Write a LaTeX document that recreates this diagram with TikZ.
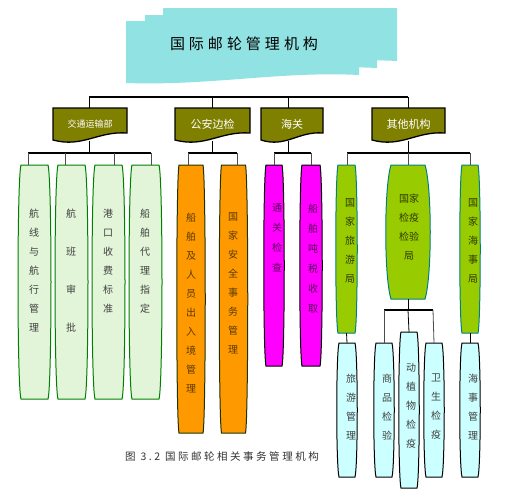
\documentclass[tikz,border=0pt]{standalone}
\usepackage{fontspec}
\setmainfont{Noto Sans CJK SC}
\usetikzlibrary{calc,backgrounds}
\definecolor{titlecyan}{HTML}{91E2E2}
\definecolor{hdrolive}{HTML}{808000}
\definecolor{gfill}{HTML}{E2F5D8}
\definecolor{gdraw}{HTML}{008000}
\definecolor{ofill}{HTML}{FF9900}
\definecolor{odraw}{HTML}{1F3300}
\definecolor{mfill}{HTML}{FF00FF}
\definecolor{yfill}{HTML}{99CC00}
\definecolor{ydraw}{HTML}{008080}
\definecolor{cfill}{HTML}{CCFFFF}
\definecolor{otext}{HTML}{5A3A00}
\definecolor{mtext}{HTML}{5A005A}
\definecolor{ytext}{HTML}{2E3A00}
\newcommand\tsp{\hspace{4pt}}
% barrel outline round a named node: name, fill, draw, inset, control offset
\newcommand\barrel[5]{%
  \path[fill=#2,draw=#3,line width=1pt]
    ($(#1.north west)+(#4,0)$) -- ($(#1.north east)+(-#4,0)$)
    .. controls ($(#1.north east)+(0,#5)$) and ($(#1.south east)+(0,-#5)$) .. ($(#1.south east)+(-#4,0)$)
    -- ($(#1.south west)+(#4,0)$)
    .. controls ($(#1.south west)+(0,-#5)$) and ($(#1.north west)+(0,#5)$) .. cycle;}
% document shape round a named header node
\newcommand\docshape[1]{%
  \path[fill=hdrolive,draw=black,line width=1.3pt]
    (#1.north west) -- (#1.north east) -- ($(#1.south east)+(0,-7)$)
    .. controls ($(#1.south east)!0.4!(#1.south west)+(0,-9)$) and ($(#1.south east)!0.6!(#1.south west)+(0,8)$) .. (#1.south west)
    -- cycle;}
\begin{document}
\begin{tikzpicture}[x=1pt,y=-1pt,
  boxnode/.style={inner sep=0pt,outer sep=0pt},
  hdr/.style={inner sep=0pt,outer sep=0pt,text=white,font=\fontsize{11}{11}\selectfont},
  vtext/.style={anchor=north,inner sep=0pt,align=center,font=\fontsize{10}{19}\selectfont},
  bus/.style={line width=1.5pt,black},
  drop/.style={line width=0.8pt,black!70}]
\useasboundingbox (0,0) rectangle (525,499);

% title banner
\path[fill=titlecyan] (163,8) -- (397,8) -- (397,61) .. controls (320,57) and (250,70) .. (163,66) -- cycle;
\path[fill=titlecyan] (145,15) -- (377,15) -- (377,68) .. controls (300,64) and (230,77) .. (145,73) -- cycle;
\path[fill=titlecyan] (126,21) -- (359,21) -- (359,75) .. controls (280,71) and (210,86) .. (126,83) -- cycle;
\node[font=\fontsize{15}{15}\selectfont] (title) at (244,44) {国\tsp 际\tsp 邮\tsp 轮\tsp 管\tsp 理\tsp 机\tsp 构};

% headers
\node[hdr,minimum width=74,minimum height=32,font=\fontsize{9}{9}\selectfont] (h1) at (90,124) {交通运输部};
\node[hdr,minimum width=75,minimum height=32] (h2) at (212.5,124) {公安边检};
\node[hdr,minimum width=62,minimum height=32] (h3) at (292,124) {海关};
\node[hdr,minimum width=73,minimum height=32] (h4) at (408.5,124) {其他机构};

% level-2 boxes
\node[boxnode,minimum width=35,minimum height=234] (b1) at (34.5,282) {};
\node[boxnode,minimum width=35,minimum height=234] (b2) at (71.5,282) {};
\node[boxnode,minimum width=35,minimum height=234] (b3) at (108.5,282) {};
\node[boxnode,minimum width=35,minimum height=234] (b4) at (145.5,282) {};
\node[boxnode,minimum width=30,minimum height=268] (b5) at (191,299) {};
\node[boxnode,minimum width=30,minimum height=268] (b6) at (233.5,299) {};
\node[boxnode,minimum width=22,minimum height=201] (b7) at (274,265.5) {};
\node[boxnode,minimum width=24,minimum height=201] (b8) at (311,265.5) {};
\node[boxnode,minimum width=23,minimum height=168] (b9) at (346.5,249) {};
\node[boxnode,minimum width=48,minimum height=134] (b10) at (408,232) {};
\node[boxnode,minimum width=22,minimum height=168] (b11) at (470,249) {};
% level-3 boxes
\node[boxnode,minimum width=22,minimum height=134] (c1) at (347,410) {};
\node[boxnode,minimum width=22,minimum height=134] (c2) at (384,410) {};
\node[boxnode,minimum width=22,minimum height=156] (c3) at (409,410) {};
\node[boxnode,minimum width=22,minimum height=134] (c4) at (434,410) {};
\node[boxnode,minimum width=22,minimum height=134] (c5) at (470,410) {};

% texts
\node[vtext,text=black!75] (t1) at (34,208.5) {航\\线\\与\\航\\行\\管\\理};
\node[vtext,text=black!75] (t2) at (71,208.5) {航\\[19pt]班\\[19pt]审\\[19pt]批};
\node[vtext,text=black!75] (t3) at (108,208.5) {港\\口\\收\\费\\标\\准};
\node[vtext,text=black!75] (t4) at (145,208.5) {船\\舶\\代\\理\\指\\定};
\node[vtext,text=otext] (t5) at (191,212.5) {船\\舶\\及\\人\\员\\出\\入\\境\\管\\理};
\node[vtext,text=otext] (t6) at (233,212.5) {国\\家\\安\\全\\事\\务\\管\\理};
\node[vtext,text=mtext,font=\fontsize{10}{20}\selectfont] (t7) at (277,203.5) {通\\关\\检\\查};
\node[vtext,text=mtext,font=\fontsize{10}{20}\selectfont] (t8) at (313,203.5) {船\\舶\\吨\\税\\收\\取};
\node[vtext,text=ytext] (t9) at (350,198.5) {国\\家\\旅\\游\\局};
\node[vtext,text=ytext] (t10) at (409,193.5) {国家\\检疫\\检验\\局};
\node[vtext,text=ytext] (t11) at (473,198.5) {国\\家\\海\\事\\局};
\node[vtext,text=black!75] (t12) at (351,373.5) {旅\\游\\管\\理};
\node[vtext,text=black!75] (t13) at (387,373.5) {商\\品\\检\\验};
\node[vtext,text=black!75] (t14) at (411,363.5) {动\\植\\物\\检\\疫};
\node[vtext,text=black!75] (t15) at (436,373.5) {卫\\生\\检\\疫};
\node[vtext,text=black!75] (t16) at (473,373.5) {海\\事\\管\\理};

% caption
\node[font=\fontsize{10.5}{10.5}\selectfont\addfontfeature{LetterSpace=24},text=black!80] (cap) at (222,456) {图 3.2 国际邮轮相关事务管理机构};

% bus coordinates
\coordinate (T1) at (89,97); \coordinate (T2) at (212,97);
\coordinate (T3) at (288,97); \coordinate (T4) at (408,97);
\coordinate (A1) at (28,153); \coordinate (A2) at (65,153);
\coordinate (A3) at (114,153); \coordinate (A4) at (151,153);
\coordinate (B1) at (188,153); \coordinate (B2) at (237,153);
\coordinate (C1) at (274,153); \coordinate (C2) at (311,153);
\coordinate (D1) at (347,153); \coordinate (D2) at (408,153); \coordinate (D3) at (470,153);
\coordinate (E1) at (384,310); \coordinate (E2) at (408,310); \coordinate (E3) at (433,310);

% top level
\draw[bus] (T1) -- (T4);
\draw[drop,black] (T1) -- (T1 |- h1.north);
\draw[drop,black] (T2) -- (T2 |- h2.north);
\draw[drop,black] (T3) -- (T3 |- h3.north);
\draw[drop,black] (T4) -- (T4 |- h4.north);
\draw[drop,black] (A1 -| T1) ++(0,-12) -- (A1 -| T1);
\draw[drop,black] (B1 -| T2) ++(0,-12) -- (B1 -| T2);
\draw[drop,black] (C1 -| T3) ++(0,-12) -- (C1 -| T3);
\draw[drop,black] (D2) ++(0,-12) -- (D2);
% sub-buses
\draw[bus] (A1) -- (A4);
\draw[bus] (B1) -- (B2);
\draw[bus] (C1) -- (C2);
\draw[bus] (D1) -- (D3);
\draw[drop] (A1) -- (A1 |- b1.north);
\draw[drop] (A2) -- (A2 |- b2.north);
\draw[drop] (A3) -- (A3 |- b3.north);
\draw[drop] (A4) -- (A4 |- b4.north);
\draw[drop] (B1) -- (B1 |- b5.north);
\draw[drop] (B2) -- (B2 |- b6.north);
\draw[drop] (C1) -- (C1 |- b7.north);
\draw[drop] (C2) -- (C2 |- b8.north);
\draw[drop] (D1) -- (D1 |- b9.north);
\draw[drop] (D2) -- (D2 |- b10.north);
\draw[drop] (D3) -- (D3 |- b11.north);
% third level
\draw[drop,black] (b9.south) -- (c1.north);
\draw[drop,black] (b11.south) -- (c5.north);
\draw[drop,black] (b10.south) -- (E2);
\draw[bus] (E1) -- (E3);
\draw[drop] (E1) -- (c2.north);
\draw[drop,black] (E2) -- (c3.north);
\draw[drop] (E3) -- (c4.north);

\begin{scope}[on background layer]
  \docshape{h1}\docshape{h2}\docshape{h3}\docshape{h4}
  \barrel{b1}{gfill}{gdraw}{4}{14}
  \barrel{b2}{gfill}{gdraw}{4}{14}
  \barrel{b3}{gfill}{gdraw}{4}{14}
  \barrel{b4}{gfill}{gdraw}{4}{14}
  \barrel{b5}{ofill}{odraw}{3}{14}
  \barrel{b6}{ofill}{odraw}{3}{14}
  \barrel{b7}{mfill}{black}{3}{12}
  \barrel{b8}{mfill}{black}{3}{12}
  \barrel{b9}{yfill}{ydraw}{3}{12}
  \barrel{b10}{yfill}{ydraw}{7}{22}
  \barrel{b11}{yfill}{ydraw}{3}{12}
  \barrel{c1}{cfill}{black}{3}{12}
  \barrel{c2}{cfill}{black}{3}{12}
  \barrel{c3}{cfill}{black}{3}{12}
  \barrel{c4}{cfill}{black}{3}{12}
  \barrel{c5}{cfill}{black}{3}{12}
\end{scope}
\end{tikzpicture}
\end{document}
